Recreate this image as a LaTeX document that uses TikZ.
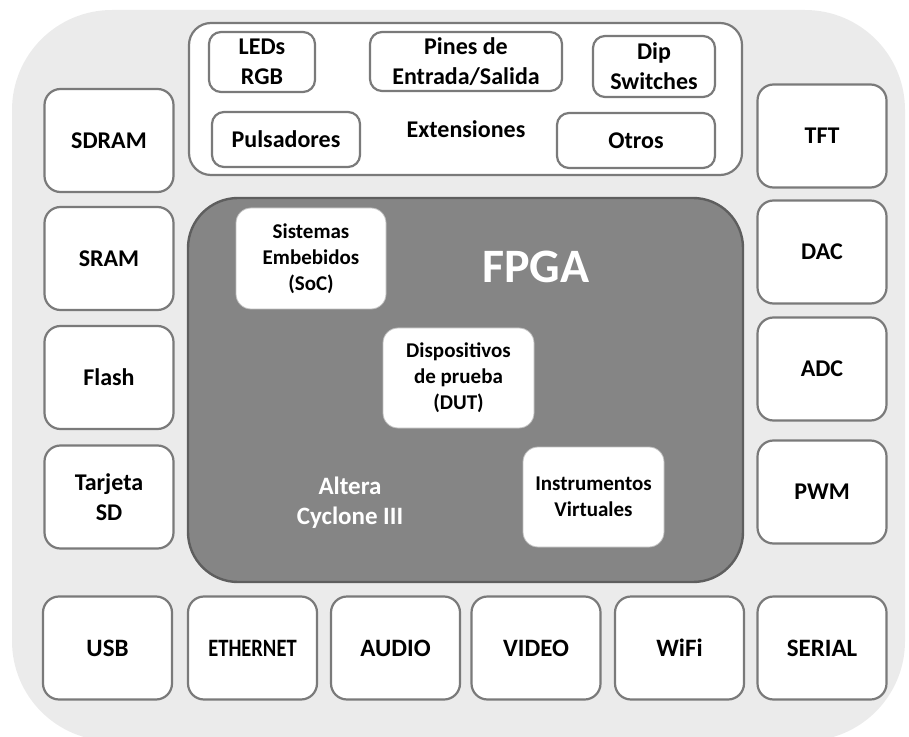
\documentclass[tikz,border=0pt]{standalone}
\usepackage{fontspec}
\setmainfont{Carlito}
\usepackage{graphicx}
\usetikzlibrary{
    positioning,
    backgrounds
}
\definecolor{boardgray}{HTML}{EBEBEB}
\definecolor{fpgagray}{HTML}{858585}
\definecolor{fpgaedge}{HTML}{5E5E5E}
\definecolor{edgegray}{HTML}{7A7A7A}

\begin{document}
\begin{tikzpicture}[
    x=0.5pt,
    y=-0.5pt,
    every node/.style={
        font=\fontsize{12pt}{15pt}\selectfont\bfseries
    },
    periph/.style={
        rectangle,
        rounded corners=8pt,
        draw=edgegray,
        line width=1.1pt,
        minimum width=64.5pt,
        minimum height=51.5pt,
        align=center,
        inner sep=1pt,
        fill=white
    },
    portbox/.style={
        periph,
        font=\fontsize{12.5pt}{15pt}\selectfont\bfseries
    },
    extitem/.style={
        periph,
        rounded corners=6pt,
        minimum width=10pt,
        minimum height=10pt
    },
    coreitem/.style={
        rectangle,
        rounded corners=7.5pt,
        draw=black!25,
        line width=0.4pt,
        fill=white,
        align=center,
        inner sep=1pt,
        font=\fontsize{10.5pt}{13pt}\selectfont\bfseries
    },
    whitetitle/.style={
        text=white,
        align=center
    }
]

\useasboundingbox (0,0) rectangle (909,737);

% Board background
\fill[boardgray, rounded corners=50pt] (12,10) rectangle (905,741);

% ===========================================================
% LEFT COLUMN: memories
% ===========================================================

\node[periph] (sdram)  at (109,140.5) {SDRAM};
\node[periph] (sram)   at (109,258.5) {SRAM};
\node[periph] (flash)  at (109,377.5) {Flash};
\node[periph] (sdcard) at (109,497)   {Tarjeta\\SD};

% ===========================================================
% RIGHT COLUMN: display and converters
% ===========================================================

\node[periph] (tft) at (822,136) {TFT};
\node[periph] (dac) at (822,252) {DAC};
\node[periph] (adc) at (822,369) {ADC};
\node[periph] (pwm) at (822,492) {PWM};

% ===========================================================
% BOTTOM ROW: communication ports
% ===========================================================

\node[portbox] (usb)      at (107.5,648) {USB};
\node[portbox] (ethernet) at (252.5,648) {\scalebox{0.82}[1]{ETHERNET}};
\node[portbox] (audio)    at (395.5,648) {AUDIO};
\node[portbox] (video)    at (536,648)   {VIDEO};
\node[portbox] (wifi)     at (679.5,648) {WiFi};
\node[portbox] (serial)   at (822,648)   {SERIAL};

% ===========================================================
% TOP PANEL: extensions
% ===========================================================

\node[
    periph,
    rounded corners=11pt,
    minimum width=276.5pt,
    minimum height=76pt
] (ext) at (465.5,99) {};

\node (extlabel) at (466,129) {Extensiones};

\node[extitem, minimum width=53pt, minimum height=30pt]
    (leds) at (262,62) {LEDs\\RGB};
\node[extitem, minimum width=96pt, minimum height=29.5pt]
    (pines) at (466,61.5) {Pines de\\Entrada/Salida};
\node[extitem, minimum width=61pt, minimum height=30.5pt]
    (dip) at (654,66.5) {Dip\\Switches};
\node[extitem, minimum width=74pt, minimum height=27.5pt]
    (pulsadores) at (286,139.5) {Pulsadores};
\node[extitem, minimum width=79pt, minimum height=27.5pt]
    (otros) at (636,140.5) {Otros};

% ===========================================================
% CENTRE: FPGA
% ===========================================================

\node[
    rectangle,
    rounded corners=25pt,
    draw=fpgaedge,
    line width=1.2pt,
    fill=fpgagray,
    minimum width=277.5pt,
    minimum height=192pt
] (fpga) at (465.5,390) {};

\node[whitetitle, font=\fontsize{24pt}{28pt}\selectfont\bfseries]
    (fpgalabel) at (536,267) {FPGA};
\node[whitetitle, font=\fontsize{12.5pt}{15pt}\selectfont\bfseries]
    (altera) at (350,503) {Altera\\Cyclone III};

\node[coreitem, minimum width=75pt, minimum height=50.5pt]
    (soc) at (311,258.5) {Sistemas\\Embebidos\\(SoC)};
\node[coreitem, minimum width=75.5pt, minimum height=50pt]
    (dut) at (458.5,378) {Dispositivos\\de prueba\\(DUT)};
\node[coreitem, minimum width=70.5pt, minimum height=50pt]
    (instr) at (593.5,497) {Instrumentos\\Virtuales};

\end{tikzpicture}
\end{document}
